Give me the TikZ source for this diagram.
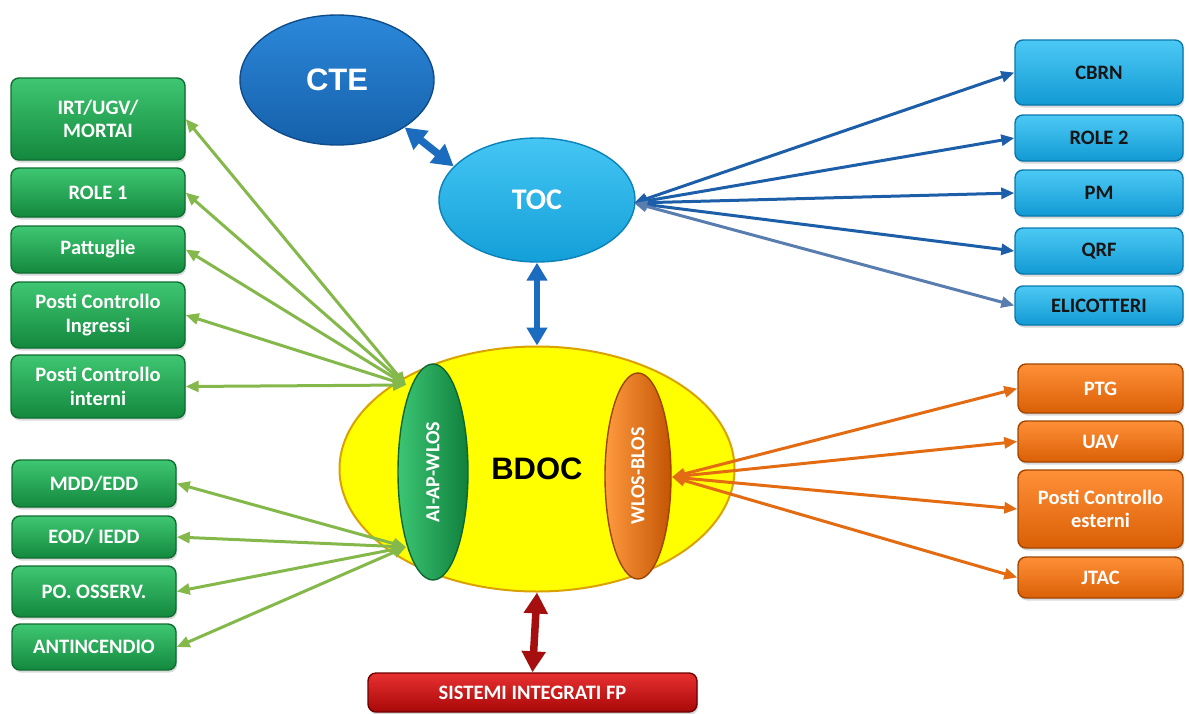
\documentclass[tikz,border=0pt]{standalone}
\usepackage{fontspec}
\newfontfamily\carl{Carlito}
\newfontfamily\arl{Liberation Sans}
\usetikzlibrary{shapes.geometric,arrows.meta,shadows}

% palette
\definecolor{gTop}{HTML}{3FC772}
\definecolor{gBot}{HTML}{13883D}
\definecolor{gEdge}{HTML}{0E6E30}
\definecolor{bTop}{HTML}{4CC9F4}
\definecolor{bBot}{HTML}{129AD4}
\definecolor{bEdge}{HTML}{0A78AC}
\definecolor{bText}{HTML}{151515}
\definecolor{oTop}{HTML}{FF9038}
\definecolor{oBot}{HTML}{DA5F05}
\definecolor{oEdge}{HTML}{A24600}
\definecolor{rTop}{HTML}{E83030}
\definecolor{rBot}{HTML}{A80808}
\definecolor{rEdge}{HTML}{6E0000}
\definecolor{cteTop}{HTML}{2C88DA}
\definecolor{cteBot}{HTML}{1560AA}
\definecolor{cteEdge}{HTML}{0F4C8A}
\definecolor{tocTop}{HTML}{45C6F4}
\definecolor{tocBot}{HTML}{139FD8}
\definecolor{tocEdge}{HTML}{0B82B8}
\definecolor{yFill}{HTML}{FFFF00}
\definecolor{yEdge}{HTML}{D9A200}
\definecolor{aiLeft}{HTML}{3CC674}
\definecolor{aiMid}{HTML}{1C9E4E}
\definecolor{aiRight}{HTML}{10803D}
\definecolor{wbLeft}{HTML}{FF9A40}
\definecolor{wbMid}{HTML}{F27410}
\definecolor{wbRight}{HTML}{C45503}
\definecolor{gArrow}{HTML}{84B84A}
\definecolor{bArrow}{HTML}{1D5EA8}
\definecolor{bArrowLight}{HTML}{5A7DB0}
\definecolor{oArrow}{HTML}{E36B12}
\definecolor{rArrow}{HTML}{A50F0F}
\definecolor{linkBlue}{HTML}{1B6BBE}

\begin{document}
\begin{tikzpicture}[x=1pt,y=-1pt,
  lbl/.style={font=\carl\bfseries\fontsize{20.5}{23.5}\selectfont, align=center},
  box/.style={lbl, rounded corners=8pt, line width=1.4pt, inner sep=2pt,
    drop shadow={shadow xshift=1.2pt, shadow yshift=-2.5pt, opacity=0.3}},
  gbox/.style={box, draw=gEdge, top color=gTop, bottom color=gBot, text=white},
  bbox/.style={box, draw=bEdge, top color=bTop, bottom color=bBot, text=bText},
  obox/.style={box, draw=oEdge, top color=oTop, bottom color=oBot, text=white},
  rbox/.style={box, draw=rEdge, top color=rTop, bottom color=rBot, text=white},
  oval/.style={ellipse, inner sep=0pt, line width=1.4pt},
  thin arrow/.style={line width=3pt, <->, >={Triangle[length=13pt,width=11pt]}},
  garr/.style={thin arrow, draw=gArrow, fill=gArrow},
  barr/.style={thin arrow, draw=bArrow, fill=bArrow},
  oarr/.style={thin arrow, draw=oArrow, fill=oArrow},
  fat arrow/.style={line width=7.5pt, <->, >={Triangle[length=21pt,width=23pt]}},
]
\useasboundingbox (0,0) rectangle (1189,713);

% ---- left group (green) ----
\node[gbox, minimum width=174pt, minimum height=82pt] (irt)   at (98,119)   {IRT/UGV/\\MORTAI};
\node[gbox, minimum width=174pt, minimum height=49pt] (role1) at (98,192.5) {ROLE 1};
\node[gbox, minimum width=174pt, minimum height=47pt] (patt)  at (98,249.5) {Pattuglie};
\node[gbox, minimum width=174pt, minimum height=66pt] (ingr)  at (98,315)   {Posti Controllo\\Ingressi};
\node[gbox, minimum width=174pt, minimum height=63pt] (inte)  at (98,386.5) {Posti Controllo\\interni};
\node[gbox, minimum width=164pt, minimum height=47pt] (mdd)   at (94,483.5) {MDD/EDD};
\node[gbox, minimum width=164pt, minimum height=42pt] (eod)   at (94,537)   {EOD/ IEDD};
\node[gbox, minimum width=164pt, minimum height=51pt] (poss)  at (94,591.5) {PO. OSSERV.};
\node[gbox, minimum width=164pt, minimum height=46pt] (anti)  at (94,647)   {ANTINCENDIO};

% ---- right group (blue) ----
\node[bbox, minimum width=168pt, minimum height=65pt] (cbrn)  at (1099,72.5) {CBRN};
\node[bbox, minimum width=168pt, minimum height=46pt] (role2) at (1099,138)  {ROLE 2};
\node[bbox, minimum width=168pt, minimum height=46pt] (pm)    at (1099,193)  {PM};
\node[bbox, minimum width=168pt, minimum height=46pt] (qrf)   at (1099,251)  {QRF};
\node[bbox, minimum width=168pt, minimum height=39pt] (eli)   at (1099,305.5){ELICOTTERI};

% ---- right group (orange) ----
\node[obox, minimum width=165pt, minimum height=49pt] (ptg)  at (1100.5,388.5) {PTG};
\node[obox, minimum width=165pt, minimum height=41pt] (uav)  at (1100.5,441.5) {UAV};
\node[obox, minimum width=165pt, minimum height=78pt] (pce)  at (1100.5,509)   {Posti Controllo\\esterni};
\node[obox, minimum width=165pt, minimum height=41pt] (jtac) at (1100.5,577.5) {JTAC};

% ---- bottom (red) ----
\node[rbox, minimum width=329pt, minimum height=39pt] (fp) at (532.5,692.5) {SISTEMI INTEGRATI FP};

% ---- command ellipses ----
\node[oval, draw=cteEdge, top color=cteTop, bottom color=cteBot, text=white,
      minimum width=194pt, minimum height=130pt,
      font=\arl\bfseries\fontsize{31}{31}\selectfont] (cte) at (337,80) {CTE};
\node[oval, draw=tocEdge, top color=tocTop, bottom color=tocBot, text=white,
      minimum width=196pt, minimum height=124pt,
      font=\carl\bfseries\fontsize{30}{30}\selectfont] (toc) at (537,200) {TOC};
\node[oval, draw=yEdge, fill=yFill, line width=2pt,
      minimum width=395pt, minimum height=245pt,
      font=\arl\bfseries\fontsize{31}{31}\selectfont] (bdoc) at (537,469) {BDOC};
\node[oval, draw=aiRight!80!black, left color=aiLeft, middle color=aiMid, right color=aiRight, text=white,
      minimum width=70pt, minimum height=216pt,
      font=\carl\bfseries\fontsize{20}{20}\selectfont] (ai) at (433,472) {\rotatebox{90}{AI-AP-WLOS}};
\node[oval, draw=wbRight!80!black, left color=wbLeft, middle color=wbMid, right color=wbRight, text=white,
      minimum width=66pt, minimum height=206pt,
      font=\carl\bfseries\fontsize{20}{20}\selectfont] (wb) at (638,476) {\rotatebox{90}{WLOS-BLOS}};

% ---- hubs where the fans of links meet ----
\coordinate (gtop) at (406,385);
\coordinate (gbot) at (406,547);
\coordinate (bhub) at (634,203);
\coordinate (ohub) at (672,477);

% ---- links ----
\draw[fat arrow, draw=linkBlue, fill=linkBlue] (cte.-35) -- (toc.158);
\draw[line width=6.5pt, <->, >={Triangle[length=18pt,width=20pt]}, draw=linkBlue, fill=linkBlue] (toc.south) -- (bdoc.north);
\draw[fat arrow, draw=rArrow, fill=rArrow] (bdoc.south) -- (fp.north);

\foreach \n in {irt,role1,patt,ingr,inte}
  \draw[garr] (\n.east) -- (gtop);
\foreach \n in {mdd,eod,poss,anti}
  \draw[garr] (\n.east) -- (gbot);

\foreach \n in {cbrn,role2,pm,qrf}
  \draw[barr] (bhub) -- (\n.west);
\draw[thin arrow, draw=bArrowLight, fill=bArrowLight] (bhub) -- (eli.west);

\foreach \n in {ptg,uav,pce,jtac}
  \draw[oarr] (ohub) -- (\n.west);
\end{tikzpicture}
\end{document}
